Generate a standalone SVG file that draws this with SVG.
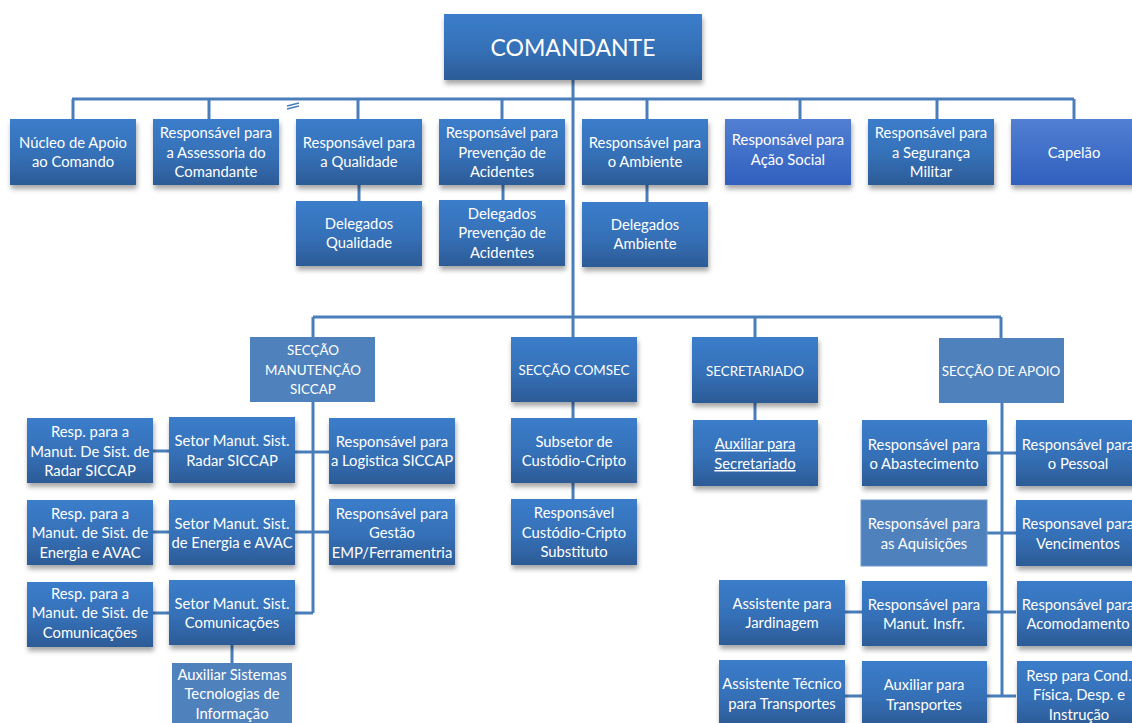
<svg xmlns="http://www.w3.org/2000/svg" width="1132" height="723" viewBox="0 0 1132 723">
<defs>
<linearGradient id="g1" x1="0" y1="0" x2="0" y2="1">
<stop offset="0" stop-color="#3b7dcb"/><stop offset="0.55" stop-color="#3570b7"/><stop offset="1" stop-color="#2c5b96"/>
</linearGradient>
<linearGradient id="g2" x1="0" y1="0" x2="0" y2="1">
<stop offset="0" stop-color="#527fd2"/><stop offset="1" stop-color="#3060bf"/>
</linearGradient>
<filter id="sh" x="-10%" y="-10%" width="120%" height="130%">
<feDropShadow dx="1" dy="4" stdDeviation="2.5" flood-color="#000" flood-opacity="0.35"/>
</filter>
</defs>
<style>
.b{fill:url(#g1);filter:url(#sh)}
.b2{fill:url(#g2);filter:url(#sh)}
.f{fill:#4f81bd}
.t{font-family:Lato,"Liberation Sans",sans-serif;font-size:14.8px;fill:#fff;text-anchor:middle}
.cap{font-size:13.4px}
.big{font-size:23px}
.u{text-decoration:underline}
.c{stroke:#4a7ebb;stroke-width:3;fill:none}
</style>
<rect width="1132" height="723" fill="#fff"/>
<g id="connectors" class="c">
<path d="M573 80V337M72 99H1074M73 99V119M209 99V119M358 99V119M502 99V119M647 99V119M800 99V119M937 99V119M1074 99V119"/>
<path d="M359 185V201M503 185V200M647 185V202"/>
<path d="M313 317H1001M313 317V337M755 317V337M1001 317V338"/>
<path d="M313 402V613M295 452H329M295 532H329M295 613H313M153 451H169M153 532H169M153 613H169M232 645V663"/>
<path d="M573 402V418M573 483V499M755 403V420"/>
<path d="M1002 403V696M987 453H1016M987 533H1016M987 612H1016M987 696H1016M845 612H862M845 696H862"/>
<path d="M287 106L299 103M287 109L299 106" stroke-width="1.5"/>
</g>
<g id="comandante"><rect class="b" x="444" y="14" width="258" height="66"/><text class="t big" x="573" y="56">COMANDANTE</text></g>
<g id="nucleo"><rect class="b" x="10" y="119" width="126" height="66"/><text class="t" x="73" y="148">Núcleo de Apoio</text><text class="t" x="73" y="167">ao Comando</text></g>
<g id="assessoria"><rect class="b" x="153" y="119" width="126" height="66"/><text class="t" x="216" y="138">Responsável para</text><text class="t" x="216" y="158">a Assessoria do</text><text class="t" x="216" y="177">Comandante</text></g>
<g id="qualidade"><rect class="b" x="296" y="119" width="126" height="66"/><text class="t" x="359" y="148">Responsável para</text><text class="t" x="359" y="167">a Qualidade</text></g>
<g id="prevencao"><rect class="b" x="439" y="119" width="126" height="66"/><text class="t" x="502" y="138">Responsável para</text><text class="t" x="502" y="158">Prevenção de</text><text class="t" x="502" y="177">Acidentes</text></g>
<g id="ambiente"><rect class="b" x="582" y="119" width="126" height="66"/><text class="t" x="645" y="148">Responsável para</text><text class="t" x="645" y="167">o Ambiente</text></g>
<g id="acaosocial"><rect class="b2" x="725" y="119" width="126" height="66"/><text class="t" x="788" y="145">Responsável para</text><text class="t" x="788" y="165">Ação Social</text></g>
<g id="seguranca"><rect class="b" x="868" y="119" width="126" height="66"/><text class="t" x="931" y="138">Responsável para</text><text class="t" x="931" y="158">a Segurança</text><text class="t" x="931" y="177">Militar</text></g>
<g id="capelao"><rect class="b2" x="1011" y="119" width="126" height="66"/><text class="t" x="1074" y="158">Capelão</text></g>
<g id="delqual"><rect class="b" x="296" y="201" width="126" height="65"/><text class="t" x="359" y="229">Delegados</text><text class="t" x="359" y="248">Qualidade</text></g>
<g id="delprev"><rect class="b" x="439" y="200" width="126" height="66"/><text class="t" x="502" y="219">Delegados</text><text class="t" x="502" y="238">Prevenção de</text><text class="t" x="502" y="258">Acidentes</text></g>
<g id="delamb"><rect class="b" x="582" y="202" width="126" height="65"/><text class="t" x="645" y="230">Delegados</text><text class="t" x="645" y="249">Ambiente</text></g>
<g id="manutencao"><rect class="f" x="250" y="337" width="125" height="65"/><text class="t cap" x="313" y="355">SECÇÃO</text><text class="t cap" x="313" y="375">MANUTENÇÃO</text><text class="t cap" x="313" y="394">SICCAP</text></g>
<g id="comsec"><rect class="b" x="511" y="337" width="126" height="65"/><text class="t cap" x="574" y="375">SECÇÃO COMSEC</text></g>
<g id="secretariado"><rect class="b" x="692" y="337" width="126" height="66"/><text class="t cap" x="755" y="376">SECRETARIADO</text></g>
<g id="apoio"><rect class="f" x="939" y="338" width="125" height="65"/><text class="t cap" x="1001" y="376">SECÇÃO DE APOIO</text></g>
<g id="respradar"><rect class="b" x="27" y="418" width="126" height="65"/><text class="t" x="90" y="437">Resp. para a</text><text class="t" x="90" y="457">Manut. De Sist. de</text><text class="t" x="90" y="476">Radar SICCAP</text></g>
<g id="setorradar"><rect class="b" x="169" y="417" width="126" height="66"/><text class="t" x="232" y="446">Setor Manut. Sist.</text><text class="t" x="232" y="466">Radar SICCAP</text></g>
<g id="logistica"><rect class="b" x="329" y="418" width="126" height="66"/><text class="t" x="392" y="447">Responsável para</text><text class="t" x="392" y="466">a Logistica SICCAP</text></g>
<g id="respenergia"><rect class="b" x="27" y="500" width="126" height="65"/><text class="t" x="90" y="519">Resp. para a</text><text class="t" x="90" y="538">Manut. de Sist. de</text><text class="t" x="90" y="558">Energia e AVAC</text></g>
<g id="setorenergia"><rect class="b" x="169" y="500" width="126" height="65"/><text class="t" x="232" y="529">Setor Manut. Sist.</text><text class="t" x="232" y="548">de Energia e AVAC</text></g>
<g id="gestao"><rect class="b" x="329" y="499" width="126" height="66"/><text class="t" x="392" y="519">Responsável para</text><text class="t" x="392" y="538">Gestão</text><text class="t" x="392" y="558">EMP/Ferramentria</text></g>
<g id="respcom"><rect class="b" x="27" y="582" width="126" height="65"/><text class="t" x="90" y="599">Resp. para a</text><text class="t" x="90" y="618">Manut. de Sist. de</text><text class="t" x="90" y="638">Comunicações</text></g>
<g id="setorcom"><rect class="b" x="169" y="580" width="126" height="65"/><text class="t" x="232" y="609">Setor Manut. Sist.</text><text class="t" x="232" y="628">Comunicações</text></g>
<g id="auxti"><rect class="f" x="172" y="663" width="120" height="65"/><text class="t" x="232" y="680">Auxiliar Sistemas</text><text class="t" x="232" y="699">Tecnologias de</text><text class="t" x="232" y="719">Informação</text></g>
<g id="subsetor"><rect class="b" x="511" y="418" width="126" height="65"/><text class="t" x="574" y="447">Subsetor de</text><text class="t" x="574" y="466">Custódio-Cripto</text></g>
<g id="respcripto"><rect class="b" x="511" y="499" width="126" height="66"/><text class="t" x="574" y="518">Responsável</text><text class="t" x="574" y="538">Custódio-Cripto</text><text class="t" x="574" y="557">Substituto</text></g>
<g id="auxsec"><rect class="b" x="693" y="420" width="125" height="66"/><text class="t u" x="755" y="449">Auxiliar para</text><text class="t u" x="755" y="469">Secretariado</text></g>
<g id="abastecimento"><rect class="b" x="862" y="420" width="125" height="66"/><text class="t" x="924" y="450">Responsável para</text><text class="t" x="924" y="469">o Abastecimento</text></g>
<g id="pessoal"><rect class="b" x="1016" y="420" width="126" height="66"/><text class="t" x="1078" y="450">Responsável para</text><text class="t" x="1078" y="469">o Pessoal</text></g>
<g id="aquisicoes"><rect class="f" x="861" y="500" width="126" height="66" stroke="#6f98cc" stroke-width="1"/><text class="t" x="924" y="529">Responsável para</text><text class="t" x="924" y="549">as Aquisições</text></g>
<g id="vencimentos"><rect class="b" x="1016" y="500" width="126" height="66"/><text class="t" x="1078" y="529">Responsavel para</text><text class="t" x="1078" y="549">Vencimentos</text></g>
<g id="jardinagem"><rect class="b" x="719" y="580" width="126" height="65"/><text class="t" x="782" y="609">Assistente para</text><text class="t" x="782" y="628">Jardinagem</text></g>
<g id="manutinsfr"><rect class="b" x="862" y="581" width="125" height="65"/><text class="t" x="924" y="610">Responsável para</text><text class="t" x="924" y="629">Manut. Insfr.</text></g>
<g id="acomodamento"><rect class="b" x="1017" y="581" width="126" height="65"/><text class="t" x="1078" y="610">Responsável para</text><text class="t" x="1078" y="629">Acomodamento</text></g>
<g id="tecnico"><rect class="b" x="719" y="660" width="126" height="65"/><text class="t" x="782" y="689">Assistente Técnico</text><text class="t" x="782" y="709">para Transportes</text></g>
<g id="auxtransp"><rect class="b" x="862" y="661" width="125" height="65"/><text class="t" x="924" y="690">Auxiliar para</text><text class="t" x="924" y="710">Transportes</text></g>
<g id="condfisica"><rect class="b" x="1017" y="661" width="126" height="65"/><text class="t" x="1079" y="681">Resp para Cond.</text><text class="t" x="1079" y="700">Física, Desp. e</text><text class="t" x="1079" y="720">Instrução</text></g>
</svg>
